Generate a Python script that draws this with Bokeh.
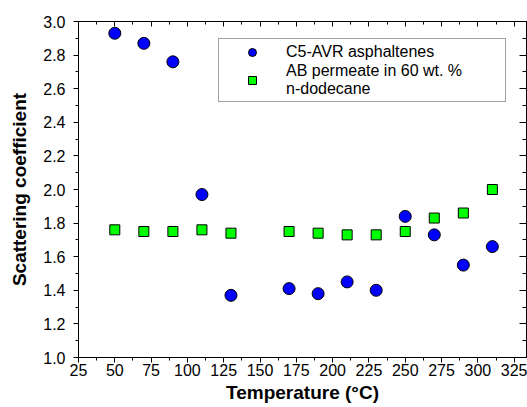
from bokeh.plotting import figure
from bokeh.models import (LinearAxis, SingleIntervalTicker, NumeralTickFormatter,
                          CustomJSTickFormatter, Range1d, Legend, LegendItem)
from bokeh.embed import file_html
from bokeh.resources import INLINE

# data
temps = [50, 70, 90, 110, 130, 170, 190, 210, 230, 250, 270, 290, 310]
c5_avr = [2.93, 2.87, 2.76, 1.97, 1.37, 1.41, 1.38, 1.45, 1.40, 1.84, 1.73, 1.55, 1.66]
ab_perm = [1.76, 1.75, 1.75, 1.76, 1.74, 1.75, 1.74, 1.73, 1.73, 1.75, 1.83, 1.86, 2.00]
label_c5 = "C5-AVR asphaltenes"
label_ab = "AB permeate in 60 wt. %\nn-dodecane"

FONT = "Liberation Sans"

p = figure(width=527, height=407, output_backend="svg", toolbar_location=None,
           x_range=Range1d(25, 333.5), y_range=Range1d(1.0, 3.0),
           min_border_left=78, min_border_right=1, min_border_top=21, min_border_bottom=50,
           x_axis_label="Temperature (\u00b0C)", y_axis_label="Scattering coefficient")
p.grid.visible = False
p.outline_line_color = "black"
p.outline_line_width = 1
p.background_fill_color = "white"
p.border_fill_color = "white"

xt = SingleIntervalTicker(interval=25, num_minor_ticks=2)
yt = SingleIntervalTicker(interval=0.2, num_minor_ticks=2)

for ax in (p.xaxis[0], p.yaxis[0]):
    ax.axis_line_color = "black"
    ax.major_tick_line_color = "black"
    ax.minor_tick_line_color = "black"
    ax.major_tick_in = 0
    ax.major_tick_out = 5
    ax.minor_tick_in = 0
    ax.minor_tick_out = 3
    ax.major_label_text_font = FONT
    ax.major_label_text_font_size = "16px"
    ax.major_label_text_color = "black"
    ax.axis_label_text_font = FONT
    ax.axis_label_text_font_size = "19px"
    ax.axis_label_text_font_style = "bold"
    ax.axis_label_text_color = "black"

p.xaxis[0].ticker = xt
p.yaxis[0].ticker = yt
p.yaxis[0].formatter = NumeralTickFormatter(format="0.0")
p.xaxis[0].major_label_standoff = 1
p.xaxis[0].axis_label_standoff = 3
p.yaxis[0].major_label_standoff = 8
p.yaxis[0].axis_label_standoff = 10

top = LinearAxis(ticker=SingleIntervalTicker(interval=25, num_minor_ticks=2),
                 formatter=CustomJSTickFormatter(code="return ''"),
                 major_tick_in=5, major_tick_out=0, minor_tick_in=3, minor_tick_out=0,
                 major_label_standoff=0, axis_line_color="black")
right = LinearAxis(ticker=SingleIntervalTicker(interval=0.2, num_minor_ticks=2),
                   formatter=CustomJSTickFormatter(code="return ''"),
                   major_tick_in=7, major_tick_out=0, minor_tick_in=4, minor_tick_out=0,
                   major_label_standoff=0, axis_line_color="black")
p.add_layout(top, "above")
p.add_layout(right, "right")

r1 = p.scatter(temps, c5_avr, marker="circle", size=12, fill_color="#0000FF",
               line_color="black", line_width=1)
r2 = p.scatter(temps, ab_perm, marker="square", size=10, fill_color="#00FF00",
               line_color="black", line_width=1)

legend = Legend(items=[LegendItem(label=label_c5, renderers=[r1]),
                       LegendItem(label=label_ab, renderers=[r2])],
                location=(140, 255), orientation="vertical",
                padding=3, spacing=0, margin=0,
                glyph_width=60, glyph_height=20, label_standoff=4, label_width=216,
                label_text_font=FONT, label_text_font_size="16px", label_text_color="black",
                border_line_color="#444444", border_line_width=1,
                background_fill_color="white", background_fill_alpha=1)
p.add_layout(legend, "center")

open("out.html", "w").write(file_html(p, INLINE))
